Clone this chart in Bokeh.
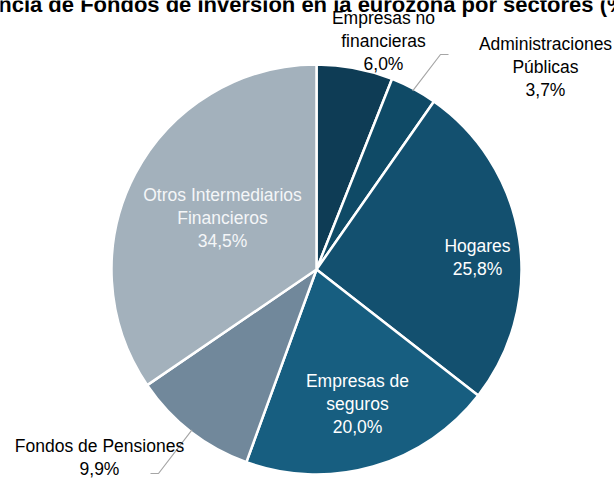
import numpy as np
from bokeh.plotting import figure
from bokeh.models import ColumnDataSource, Range1d
from bokeh.core.properties import value
from bokeh.embed import file_html
from bokeh.resources import INLINE

# ---------------- data ----------------
title_text = "Tenencia de Fondos de Inversión en la eurozona por sectores (%)"
sectors = ["Empresas no financieras", "Administraciones Públicas", "Hogares",
           "Empresas de seguros", "Fondos de Pensiones", "Otros Intermediarios Financieros"]
shares = [6.0, 3.7, 25.8, 20.0, 9.9, 34.5]

# ---------------- styles ----------------
label_lines = ["Empresas no\nfinancieras", "Administraciones\nPúblicas", "Hogares",
               "Empresas de\nseguros", "Fondos de Pensiones", "Otros Intermediarios\nFinancieros"]
colors = ["#0e3c55", "#0f4a66", "#13506f", "#175e80", "#71889b", "#a3b1bc"]
text_colors = ["#000000", "#000000", "#ffffff", "#ffffff", "#000000", "#f4f6f8"]
# label block centres in screen pixels
label_sx = [383, 545, 477, 357, 99, 222]
label_sy = [40, 66, 257, 403, 457, 217]

W, H = 614, 481


def fx(x):
    return x


def fy(y):
    return H - y


cx, cy, R = 316, 269, 205

total = sum(shares)
cum = np.concatenate([[0], np.cumsum(shares)])
starts = np.pi / 2 - cum[:-1] / total * 2 * np.pi
ends = np.pi / 2 - cum[1:] / total * 2 * np.pi
mids = (starts + ends) / 2

p = figure(width=W, height=H, x_range=Range1d(0, W), y_range=Range1d(0, H),
           output_backend="svg", toolbar_location=None, min_border=0)
p.axis.visible = False
p.grid.visible = False
p.outline_line_color = None
p.background_fill_color = "white"
p.border_fill_color = "white"

src = ColumnDataSource(dict(sector=sectors, share=shares, start=ends, end=starts, color=colors))
p.wedge(x=fx(cx), y=fy(cy), radius=R, start_angle="start", end_angle="end",
        fill_color="color", line_color="white", line_width=2.5, source=src)

# leader lines for small / outside labels
def leader(i, elbow, end):
    ax = cx + R * 0.99 * np.cos(mids[i])
    ay = cy - R * 0.99 * np.sin(mids[i])
    p.line([fx(ax), fx(elbow[0]), fx(end[0])], [fy(ay), fy(elbow[1]), fy(end[1])],
           line_color="#a6a6a6", line_width=1.2)

leader(1, (440, 54), (448, 54))
leader(4, (158, 473), (150, 473))

texts = [f"{lbl}\n{s:.1f}%".replace(".", ",") for lbl, s in zip(label_lines, shares)]
lsrc = ColumnDataSource(dict(x=[fx(v) for v in label_sx], y=[fy(v) for v in label_sy],
                             text=texts, color=text_colors))
p.text(x="x", y="y", text="text", source=lsrc, text_align="center", text_baseline="middle",
       text_font=value("Liberation Sans"), text_font_size="17.5px", text_color="color",
       text_line_height=1.15)

# title (clipped at the top, as in the reference)
p.text(x=[fx(-52)], y=[fy(4)], text=[title_text], text_align="left",
       text_baseline="alphabetic", text_font=value("Liberation Sans"),
       text_font_style="bold", text_font_size="22px", text_color="#000000")

open("out.html", "w").write(file_html(p, INLINE))
